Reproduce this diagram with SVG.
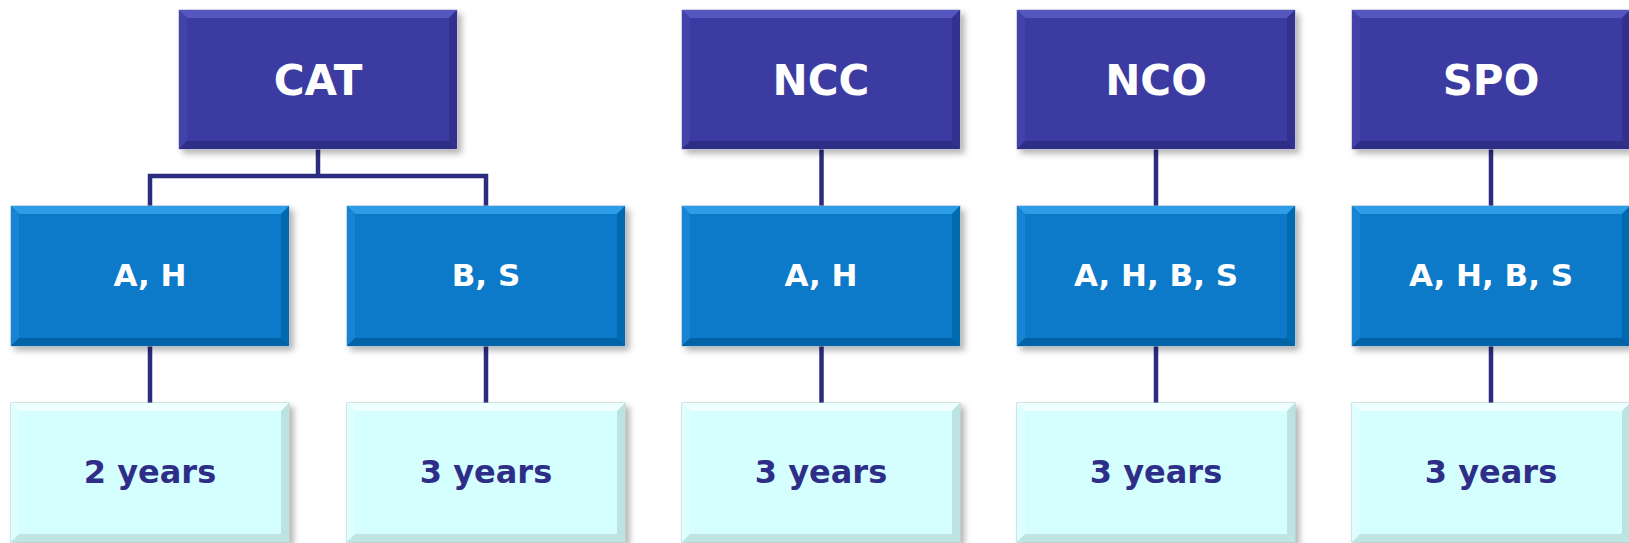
<svg xmlns="http://www.w3.org/2000/svg" xmlns:xlink="http://www.w3.org/1999/xlink" width="1629" height="543" viewBox="0 0 1629 543">
<style>
.t1{font-family:"DejaVu Sans",Verdana,sans-serif;font-weight:bold;font-size:42px;fill:#ffffff;text-anchor:middle}
.t2{font-family:"DejaVu Sans",Verdana,sans-serif;font-weight:bold;font-size:31px;fill:#ffffff;text-anchor:middle}
.t3{font-family:"DejaVu Sans",Verdana,sans-serif;font-weight:bold;font-size:32px;fill:#2E2E88;text-anchor:middle}
.conn{stroke:#2B2B80;stroke-width:4.5;fill:none}
</style>
<defs>
<filter id="sh" x="-10%" y="-10%" width="125%" height="130%">
<feDropShadow dx="4" dy="4" stdDeviation="3" flood-color="#000" flood-opacity="0.3"/>
</filter>
<g id="box1">
<rect x="0" y="0" width="278" height="139" fill="#3A3AA1" stroke="#b0b0c8" stroke-width="1"/>
<polygon points="0,0 278,0 270,8 8,8" fill="#5656C0"/>
<polygon points="0,0 8,8 8,131 0,139" fill="#4242AA"/>
<polygon points="278,0 278,139 270,131 270,8" fill="#31318E"/>
<polygon points="0,139 8,131 270,131 278,139" fill="#2E2E86"/>
</g>
<g id="box2">
<rect x="0" y="0" width="278" height="140" fill="#0779C9" stroke="#98b6cc" stroke-width="1"/>
<polygon points="0,0 278,0 270,8 8,8" fill="#2E9DE8"/>
<polygon points="0,0 8,8 8,132 0,140" fill="#1584D2"/>
<polygon points="278,0 278,140 270,132 270,8" fill="#066AAE"/>
<polygon points="0,140 8,132 270,132 278,140" fill="#0664A6"/>
</g>
<g id="box3">
<rect x="0" y="0" width="278" height="139" fill="#D5FEFE" stroke="#A8CCCC" stroke-width="1"/>
<polygon points="0,0 278,0 270,8 8,8" fill="#EEFFFF"/>
<polygon points="0,0 8,8 8,131 0,139" fill="#DDFFFF"/>
<polygon points="278,0 278,139 270,131 270,8" fill="#BCE2E2"/>
<polygon points="0,139 8,131 270,131 278,139" fill="#C0E4E4"/>
</g>
</defs>
<rect width="1629" height="543" fill="#ffffff"/>
<g id="connectors">
<path class="conn" d="M318,149 V176 M150,206 V176 H486 V206"/>
<path class="conn" d="M821.5,149 V206 M1156,149 V206 M1491,149 V206"/>
<path class="conn" d="M150,346 V403 M486,346 V403 M821.5,346 V403 M1156,346 V403 M1491,346 V403"/>
</g>
<g id="cat" transform="translate(179,10)"><use xlink:href="#box1" filter="url(#sh)"/><text class="t1" x="139" y="85">CAT</text></g>
<g id="ncc" transform="translate(682,10)"><use xlink:href="#box1" filter="url(#sh)"/><text class="t1" x="139" y="85">NCC</text></g>
<g id="nco" transform="translate(1017,10)"><use xlink:href="#box1" filter="url(#sh)"/><text class="t1" x="139" y="85">NCO</text></g>
<g id="spo" transform="translate(1352,10)"><use xlink:href="#box1" filter="url(#sh)"/><text class="t1" x="139" y="85">SPO</text></g>
<g id="cat-ah" transform="translate(11,206)"><use xlink:href="#box2" filter="url(#sh)"/><text class="t2" x="139" y="80">A, H</text></g>
<g id="cat-bs" transform="translate(347,206)"><use xlink:href="#box2" filter="url(#sh)"/><text class="t2" x="139" y="80">B, S</text></g>
<g id="ncc-ah" transform="translate(682,206)"><use xlink:href="#box2" filter="url(#sh)"/><text class="t2" x="139" y="80">A, H</text></g>
<g id="nco-ahbs" transform="translate(1017,206)"><use xlink:href="#box2" filter="url(#sh)"/><text class="t2" x="139" y="80">A, H, B, S</text></g>
<g id="spo-ahbs" transform="translate(1352,206)"><use xlink:href="#box2" filter="url(#sh)"/><text class="t2" x="139" y="80">A, H, B, S</text></g>
<g id="cat-ah-yrs" transform="translate(11,403)"><use xlink:href="#box3" filter="url(#sh)"/><text class="t3" x="139" y="80">2 years</text></g>
<g id="cat-bs-yrs" transform="translate(347,403)"><use xlink:href="#box3" filter="url(#sh)"/><text class="t3" x="139" y="80">3 years</text></g>
<g id="ncc-yrs" transform="translate(682,403)"><use xlink:href="#box3" filter="url(#sh)"/><text class="t3" x="139" y="80">3 years</text></g>
<g id="nco-yrs" transform="translate(1017,403)"><use xlink:href="#box3" filter="url(#sh)"/><text class="t3" x="139" y="80">3 years</text></g>
<g id="spo-yrs" transform="translate(1352,403)"><use xlink:href="#box3" filter="url(#sh)"/><text class="t3" x="139" y="80">3 years</text></g>
</svg>
